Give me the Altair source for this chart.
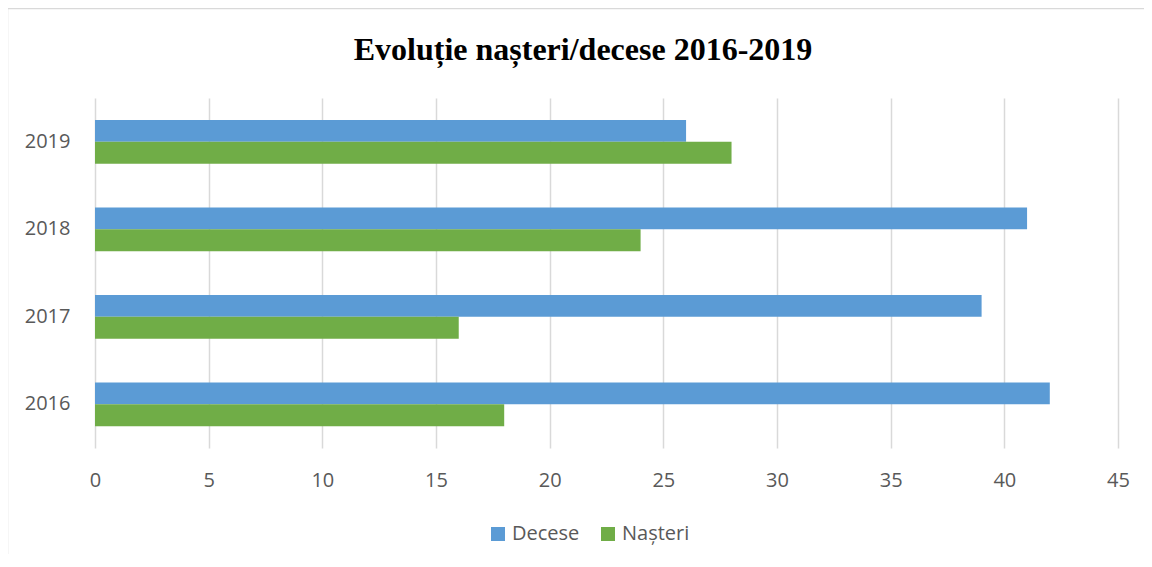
import altair as alt
import pandas as pd

years = ["2016", "2017", "2018", "2019"]
decese = [42, 39, 41, 26]
nasteri = [18, 16, 24, 28]
series = ["Decese", "Nașteri"]
colors = ["#5B9BD5", "#70AD47"]
x_ticks = [0, 5, 10, 15, 20, 25, 30, 35, 40, 45]
title_text = "Evoluție nașteri/decese 2016-2019"

rows = []
for y, d, n in zip(years, decese, nasteri):
    rows.append({"year": y, "series": series[0], "value": d})
    rows.append({"year": y, "series": series[1], "value": n})
df = pd.DataFrame(rows)

W, H = 1023, 350
PAD = {"left": 87, "top": 90, "right": 26, "bottom": 106}

bars = alt.Chart(df).mark_bar().encode(
    x=alt.X("value:Q",
            scale=alt.Scale(domain=[0, 45], nice=False, zero=True),
            axis=alt.Axis(values=x_ticks, title=None, grid=True, gridColor="#d9d9d9",
                          gridWidth=1.5, domain=False, ticks=False, labelFont="Open Sans",
                          labelFontSize=20, labelColor="#595959", labelPadding=22,
                          labelFlush=False)),
    y=alt.Y("year:N", sort=list(reversed(years)),
            scale=alt.Scale(paddingInner=0.5, paddingOuter=0.25),
            axis=alt.Axis(title=None, domain=False, ticks=False, grid=False,
                          labelFont="Open Sans", labelFontSize=20, labelColor="#595959",
                          labelPadding=25)),
    yOffset=alt.YOffset("series:N", sort=series,
                        scale=alt.Scale(paddingInner=0, paddingOuter=0)),
    color=alt.Color("series:N", sort=series,
                    scale=alt.Scale(domain=series, range=colors),
                    legend=alt.Legend(orient="none", legendX=393, legendY=426,
                                      direction="horizontal", title=None,
                                      symbolType="square", symbolSize=196,
                                      symbolStrokeWidth=0, labelFont="Open Sans",
                                      labelFontSize=20, labelColor="#595959",
                                      columnPadding=18, labelOffset=4)),
)

deco = pd.DataFrame({"t": [title_text]})

border = alt.Chart(deco).mark_rect(
    filled=False, stroke="#d9d9d9", strokeWidth=1.5
).encode(
    x=alt.value(-87.5), y=alt.value(-89.5), x2=alt.value(1100), y2=alt.value(520)
)

title = alt.Chart(deco).mark_text(
    font="Liberation Serif", fontSize=32, fontWeight="bold", color="black",
    align="center", baseline="alphabetic"
).encode(
    x=alt.value(488), y=alt.value(-38), text="t:N"
)

chart = alt.layer(border, bars, title).properties(
    width=W, height=H,
    autosize=alt.AutoSizeParams(type="none"),
    padding=PAD,
).configure_view(stroke=None)

chart.save("out.html", embed_options={"renderer": "svg", "actions": False})
